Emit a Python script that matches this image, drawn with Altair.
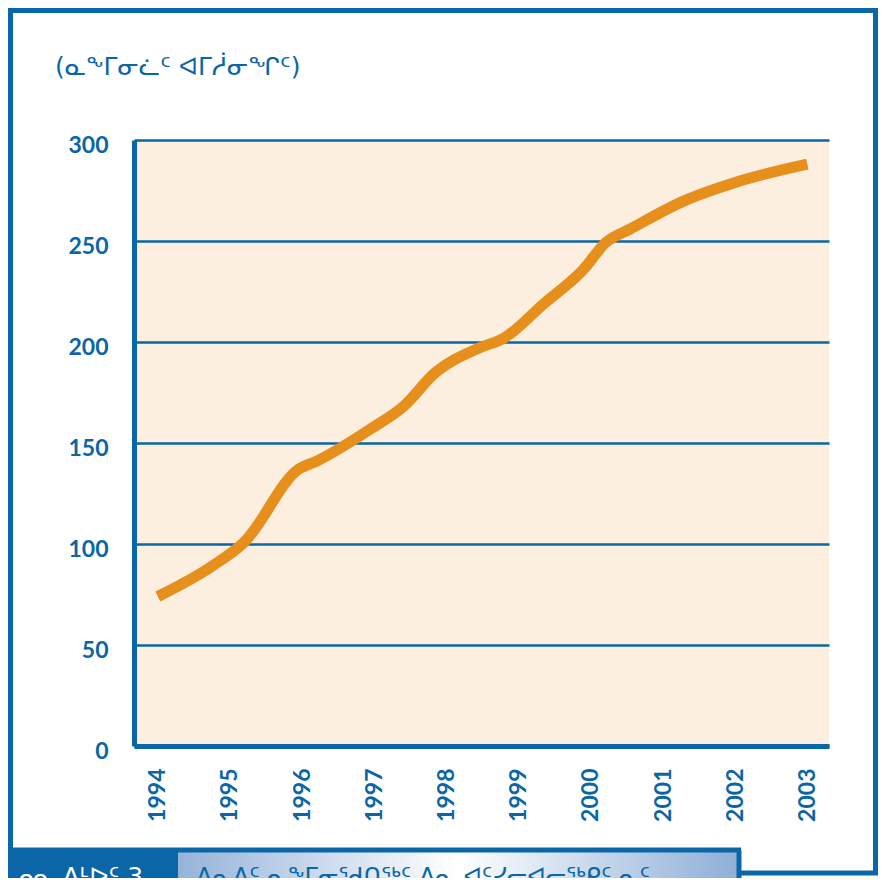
import altair as alt
import pandas as pd

# ---- data ----
years = [1994, 1994.75, 1995.2, 1995.95, 1996.2, 1996.95, 1997.4, 1997.85,
         1998.45, 1998.8, 1999.35, 1999.9, 2000.2, 2000.55, 2001.3, 2002.0, 2003]
values = [74, 89, 101, 137, 141, 157, 168, 185,
          197, 202, 219, 236, 249, 256, 270, 279, 288]
y_ticks = [0, 50, 100, 150, 200, 250, 300]
x_ticks = [1994, 1995, 1996, 1997, 1998, 1999, 2000, 2001, 2002, 2003]
y_title = "(ᓇᖕᒥᓂᓛᑦ ᐊᒥᓲᓂᖏᑦ)"
caption_label = "ᓄᓇ ᐱᒻᐅᑦ 3"
caption_text = "ᐱᓇᐱᑦ ᓇᖕᒥᓂᖁᑎᖅᑦ ᐱᓇ ᐊᑦᓯᓕᐊᓕᖅᑭᑦ ᓇᑦ"

BLUE = "#0a66a6"
ORANGE = "#e68f1c"
CREAM = "#fcefe0"
LABEL_FONT = "Lato"
SYL_FONT = "DejaVu Sans"

df = pd.DataFrame({"year": years, "value": values})
one = pd.DataFrame({"k": [0]})

line = alt.Chart(df).mark_line(
    color=ORANGE, strokeWidth=11, strokeCap="butt", interpolate="monotone"
).encode(
    x=alt.X("year:Q",
            scale=alt.Scale(domain=[1993.67, 2003.3], nice=False, zero=False),
            axis=alt.Axis(values=x_ticks, format="d", labelAngle=270,
                          labelAlign="right", labelBaseline="middle",
                          labelPadding=22, labelFont=LABEL_FONT,
                          labelFontWeight="bold", labelFontSize=23,
                          labelColor=BLUE, ticks=False, grid=False,
                          domainColor=BLUE, domainWidth=5, title=None)),
    y=alt.Y("value:Q",
            scale=alt.Scale(domain=[0, 300], nice=False),
            axis=alt.Axis(values=y_ticks, grid=True, gridColor=BLUE,
                          gridWidth=2.5, gridOpacity=1, ticks=False,
                          domainColor=BLUE, domainWidth=5, labelPadding=26,
                          labelFont=LABEL_FONT, labelFontWeight="bold",
                          labelFontSize=23, labelColor=BLUE, labelOffset=5,
                          title=None)),
)


def hrule(x1, x2, y, w=5):
    return alt.Chart(one).mark_rule(color=BLUE, strokeWidth=w).encode(
        x=alt.value(x1), x2=alt.value(x2), y=alt.value(y))


def vrule(x, y1, y2, w=5):
    return alt.Chart(one).mark_rule(color=BLUE, strokeWidth=w).encode(
        x=alt.value(x), y=alt.value(y1), y2=alt.value(y2))


def rect(x1, x2, y1, y2, color):
    return alt.Chart(one).mark_rect(color=color).encode(
        x=alt.value(x1), x2=alt.value(x2), y=alt.value(y1), y2=alt.value(y2))


grad = alt.LinearGradient(
    gradient="linear",
    stops=[alt.GradientStop(color="#95b3d9", offset=0),
           alt.GradientStop(color="#ffffff", offset=0.5),
           alt.GradientStop(color="#8eafd7", offset=1)],
    x1=0, x2=1, y1=0, y2=0)

CAP_TOP = 709      # caption top line (plot coordinates)
BOTTOM = 740       # bottom of drawing

grad_box = alt.Chart(one).mark_rect(color=grad).encode(
    x=alt.value(44), x2=alt.value(603), y=alt.value(CAP_TOP + 2),
    y2=alt.value(BOTTOM))

title_text = alt.Chart(one).mark_text(
    align="left", baseline="middle", font=SYL_FONT, fontSize=25, color=BLUE
).encode(x=alt.value(-79), y=alt.value(-73), text=alt.value(y_title))

cap_label = alt.Chart(one).mark_text(
    align="left", baseline="alphabetic", font=SYL_FONT, fontSize=25,
    color="white"
).encode(x=alt.value(-122), y=alt.value(CAP_TOP + 36),
         text=alt.value(caption_label))

cap_text = alt.Chart(one).mark_text(
    align="left", baseline="alphabetic", font=SYL_FONT, fontSize=24,
    color=BLUE
).encode(x=alt.value(62), y=alt.value(CAP_TOP + 36),
         text=alt.value(caption_text))

frame = [
    hrule(-126, 746, -129.5),               # top border
    vrule(-123.5, -132, CAP_TOP + 1),       # left border
    vrule(741.5, -132, BOTTOM - 5),         # right border
    rect(-126, 44, CAP_TOP, BOTTOM, BLUE),  # dark caption tab
    grad_box,
    cap_label,
    cap_text,
    hrule(-126, 607, CAP_TOP + 1),          # caption top line
    vrule(605, CAP_TOP + 1, BOTTOM),        # caption right edge
    hrule(605, 746, BOTTOM - 7),            # bottom right line
    title_text,
]

chart = alt.layer(line, *frame).properties(
    width=695, height=606,
    autosize=alt.AutoSizeParams(type="none"),
    padding={"left": 126, "top": 132, "right": 49, "bottom": 132},
    background="white",
).configure_view(fill=CREAM, stroke=None)

chart.save("out.html", embed_options={"renderer": "svg", "actions": False})
